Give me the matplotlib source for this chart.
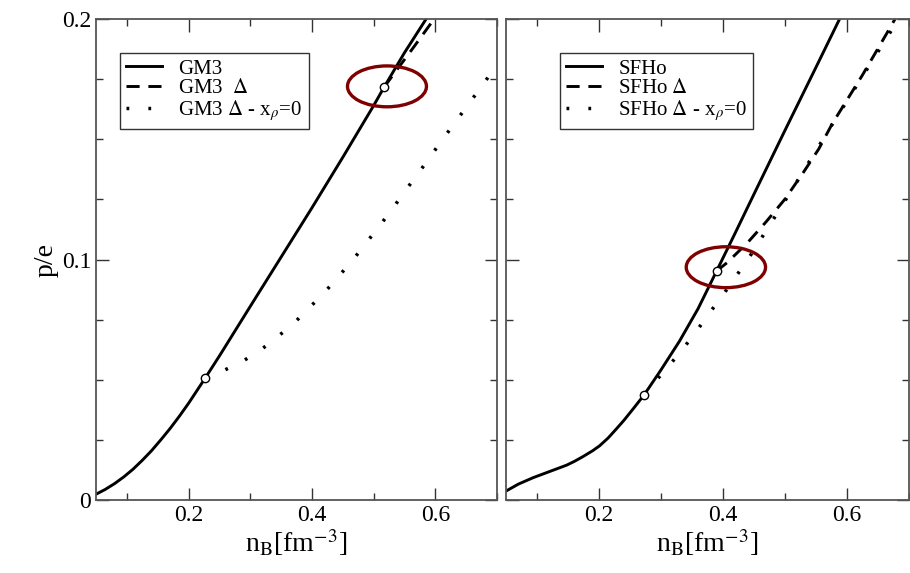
import numpy as np
import matplotlib.pyplot as plt
from matplotlib.patches import Ellipse
from matplotlib.ticker import MultipleLocator

plt.rcParams['font.family'] = ['Liberation Serif', 'DejaVu Serif']
plt.rcParams['mathtext.fontset'] = 'stix'

# GM3 (left panel)
gm3_x = [0.05, 0.065, 0.08, 0.095, 0.11, 0.125, 0.14, 0.155, 0.17, 0.185, 0.20, 0.227,
         0.251, 0.30, 0.35, 0.40, 0.45, 0.50, 0.517, 0.55, 0.585]
gm3_y = [0.0024, 0.0044, 0.0068, 0.0096, 0.0128, 0.0165, 0.0205, 0.0250, 0.0297, 0.0348, 0.0402, 0.0507,
         0.0603, 0.0805, 0.1010, 0.1215, 0.1425, 0.1640, 0.1717, 0.1860, 0.2]
gm3d_x = [0.517, 0.54, 0.564, 0.598]
gm3d_y = [0.1717, 0.1797, 0.188, 0.2]
gm3r_x = [0.227, 0.254, 0.286, 0.317, 0.345, 0.373, 0.398, 0.423, 0.446, 0.469,
          0.49, 0.512, 0.533, 0.553, 0.574, 0.594, 0.62, 0.65, 0.675, 0.70]
gm3r_y = [0.0507, 0.0535, 0.0574, 0.0624, 0.068, 0.0741, 0.0805, 0.0871, 0.0938, 0.1007,
          0.1076, 0.1148, 0.122, 0.1292, 0.1364, 0.1436, 0.1528, 0.1633, 0.172, 0.181]
gm3_pts_x = [0.227, 0.517]
gm3_pts_y = [0.0507, 0.1717]

# SFHo (right panel)
sfho_x = [0.05, 0.07, 0.094, 0.12, 0.148, 0.16, 0.174, 0.19, 0.201, 0.215, 0.228, 0.24, 0.255,
          0.273, 0.30, 0.33, 0.36, 0.39, 0.42, 0.45, 0.50, 0.55, 0.5885]
sfho_y = [0.0037, 0.0066, 0.0093, 0.0118, 0.0145, 0.0160, 0.018, 0.0205, 0.0225, 0.0258, 0.0295, 0.033, 0.0378,
          0.0437, 0.054, 0.066, 0.0795, 0.0952, 0.111, 0.127, 0.1535, 0.1797, 0.2]
sfhod_x = [0.39, 0.407, 0.44, 0.47, 0.50, 0.529, 0.555, 0.577, 0.625, 0.671, 0.678]
sfhod_y = [0.0952, 0.0987, 0.107, 0.1157, 0.125, 0.1358, 0.146, 0.1566, 0.1765, 0.1968, 0.2]
sfhor_x = [0.273, 0.293, 0.315, 0.337, 0.358, 0.378, 0.399, 0.419, 0.439, 0.457,
           0.475, 0.52, 0.575, 0.63, 0.68]
sfhor_y = [0.0437, 0.0499, 0.0564, 0.0633, 0.0704, 0.0776, 0.0848, 0.0922, 0.0994, 0.1067,
           0.1140, 0.1325, 0.1555, 0.178, 0.1985]
sfho_pts_x = [0.273, 0.39]
sfho_pts_y = [0.0437, 0.0952]

fig = plt.figure(figsize=(9.1, 5.73), dpi=100)
ax1 = fig.add_axes([0.1055, 0.1274, 0.4407, 0.8394])
ax2 = fig.add_axes([0.556, 0.1274, 0.4425, 0.8394])

lw = 2.1
dotted = (0, (0.8, 5.5))
dashed = (0, (4.5, 3))


def style(ax):
    ax.set_xlim(0.05, 0.7)
    ax.set_ylim(0, 0.2)
    ax.xaxis.set_major_locator(MultipleLocator(0.2))
    ax.xaxis.set_minor_locator(MultipleLocator(0.1))
    ax.yaxis.set_major_locator(MultipleLocator(0.1))
    ax.yaxis.set_minor_locator(MultipleLocator(0.025))
    ax.tick_params(which='both', direction='in', top=True, right=True,
                   width=1.0, color='#333333', labelsize=17)
    ax.tick_params(which='major', length=9)
    ax.tick_params(which='minor', length=5)
    for s in ax.spines.values():
        s.set_color('#555555')
        s.set_linewidth(1.3)
    ax.set_xticks([0.2, 0.4, 0.6])
    ax.set_xticklabels(['0.2', '0.4', '0.6'])
    ax.set_xlabel(r'n$_\mathrm{B}$[fm$^{-3}$]', fontsize=20, labelpad=1)


style(ax1)
ax1.set_yticks([0, 0.1, 0.2])
ax1.set_yticklabels(['0', '0.1', '0.2'])
ax1.set_ylabel('p/e', fontsize=20, labelpad=2)
ax1.plot(gm3_x, gm3_y, color='black', lw=lw, label='GM3')
ax1.plot(gm3d_x, gm3d_y, color='black', lw=lw, linestyle=dashed, label=r'GM3  $\Delta$')
ax1.plot(gm3r_x, gm3r_y, color='black', lw=2.5, linestyle=dotted,
         label=r'GM3 $\Delta$ - x$_\rho$=0')
ax1.plot(gm3_pts_x, gm3_pts_y, 'o', ms=6, mfc='white', mec='black', mew=1.0, zorder=5)
ax1.add_patch(Ellipse((0.5216, 0.172), 0.128, 0.017, fill=False, ec='#7f0000', lw=2.4, zorder=6))

style(ax2)
ax2.set_yticks([0, 0.1, 0.2])
ax2.set_yticklabels([])
ax2.plot(sfho_x, sfho_y, color='black', lw=lw, label='SFHo')
ax2.plot(sfhod_x, sfhod_y, color='black', lw=lw, linestyle=dashed, label=r'SFHo $\Delta$')
ax2.plot(sfhor_x, sfhor_y, color='black', lw=2.5, linestyle=dotted,
         label=r'SFHo $\Delta$ - x$_\rho$=0')
ax2.plot(sfho_pts_x, sfho_pts_y, 'o', ms=6, mfc='white', mec='black', mew=1.0, zorder=5)
ax2.add_patch(Ellipse((0.405, 0.0968), 0.128, 0.017, fill=False, ec='#7f0000', lw=2.4, zorder=6))

for ax, pos in [(ax1, (0.06, 0.93)), (ax2, (0.134, 0.93))]:
    leg = ax.legend(loc='upper left', bbox_to_anchor=pos, fontsize=15, frameon=True,
                    fancybox=False, edgecolor='black', handlelength=1.7,
                    handletextpad=0.8, borderpad=0.3, labelspacing=0.0,
                    borderaxespad=0)
    leg.get_frame().set_linewidth(1.0)

fig.savefig('out.png', dpi=100)
